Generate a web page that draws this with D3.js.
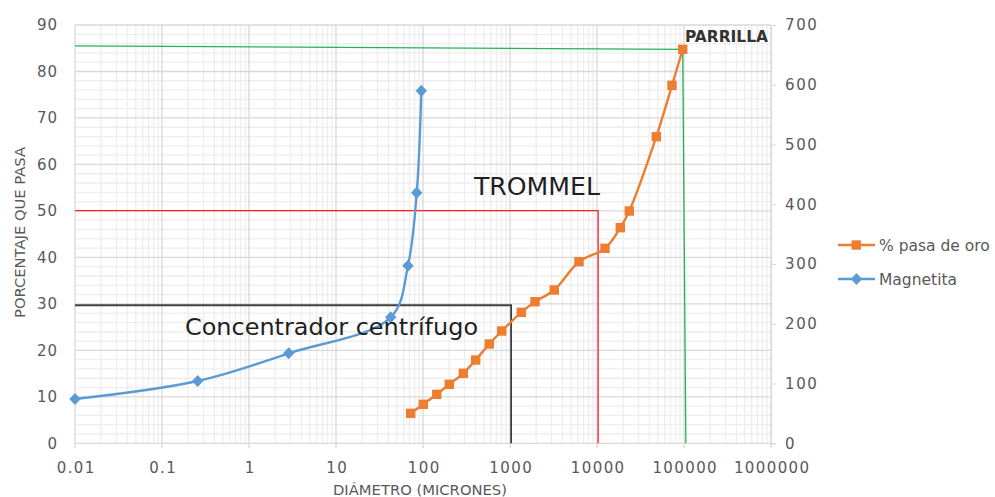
<!DOCTYPE html>
<html>
<head>
<meta charset="utf-8">
<script src="https://cdn.jsdelivr.net/npm/d3@7"></script>
<style>
  html, body { margin: 0; padding: 0; background: #fff; }
  svg { display: block; }
</style>
</head>
<body>
<svg id="chart" width="995" height="497"></svg>
<script>
// ---------- DATA ----------
const xTickValues = [0.01, 0.1, 1, 10, 100, 1000, 10000, 100000, 1000000];
const xTickLabels = ["0.01", "0.1", "1", "10", "100", "1000", "10000", "100000", "1000000"];
const leftTicks = [0, 10, 20, 30, 40, 50, 60, 70, 80, 90];
const rightTicks = [0, 100, 200, 300, 400, 500, 600, 700];

const seriesNames = ["% pasa de oro", "Magnetita"];

const oroDiam = [72.2, 100.8, 144, 200.6, 290.6, 403, 578, 803, 1349, 1939, 3228, 6210, 12360, 18530, 23500, 48060, 72800, 96600];
const oroPct  = [6.45, 8.39, 10.54, 12.69, 15.06, 17.92, 21.36, 24.16, 28.18, 30.46, 32.98, 39.07, 41.95, 46.39, 49.98, 65.97, 77.02, 84.77];

const magDiam = [0.01, 0.257, 2.86, 42.5, 67.2, 84.7, 95.6];
const magPct  = [9.53, 13.4, 19.36, 27.1, 38.2, 53.9, 75.86];

// reference (cut-size) lines: diameter / percent pairs
const parrillaDiam = [0.01, 96600, 105000];
const parrillaPct  = [85.5, 84.77, 0];
const trommelDiam  = [0.01, 10300, 10300];
const trommelPct   = [50.05, 50.05, 0];
const concDiam     = [0.01, 1030, 1030];
const concPct      = [29.7, 29.7, 0];

const annotationTexts = ["PARRILLA", "TROMMEL", "Concentrador centrífugo"];
const xTitle = "DIÁMETRO (MICRONES)";
const yTitle = "PORCENTAJE QUE PASA";

// ---------- LAYOUT ----------
const svg = d3.select("#chart");
const L = 75, R = 771, T = 25, B = 443.3;

const x = d3.scaleLog().domain([0.01, 1000000]).range([L, R]);
const y = d3.scaleLinear().domain([0, 90]).range([B, T]);
const y2 = d3.scaleLinear().domain([0, 700]).range([B, T]);

const font = "'DejaVu Sans', sans-serif";
const tickColor = "#595959";

// ---------- GRID ----------
const grid = svg.append("g");
const minorX = [];
for (let e = -2; e < 6; e++) for (let m = 2; m <= 9; m++) minorX.push(m * Math.pow(10, e));
grid.selectAll(".mvx").data(minorX).enter().append("line")
  .attr("x1", d => x(d)).attr("x2", d => x(d)).attr("y1", T).attr("y2", B)
  .attr("stroke", "#eeeeee").attr("stroke-width", 1.3);
const minorY = d3.range(0, 91, 2).filter(v => v % 10 !== 0);
grid.selectAll(".mhy").data(minorY).enter().append("line")
  .attr("x1", L).attr("x2", R).attr("y1", d => y(d)).attr("y2", d => y(d))
  .attr("stroke", "#eeeeee").attr("stroke-width", 1.3);
grid.selectAll(".Mvx").data(xTickValues).enter().append("line")
  .attr("x1", d => x(d)).attr("x2", d => x(d)).attr("y1", T).attr("y2", d => B + 5)
  .attr("stroke", "#d9d9d9").attr("stroke-width", 1.3);
grid.selectAll(".Mhy").data(leftTicks).enter().append("line")
  .attr("x1", L).attr("x2", R).attr("y1", d => y(d)).attr("y2", d => y(d))
  .attr("stroke", "#d9d9d9").attr("stroke-width", 1.3);

// ---------- AXES ----------
const xAxis = svg.append("g").attr("transform", `translate(0,${B})`)
  .call(d3.axisBottom(x).tickValues(xTickValues).tickFormat((d, i) => xTickLabels[i]).tickSize(0).tickPadding(19));
xAxis.select(".domain").remove();
xAxis.selectAll("text").attr("font-family", font).attr("font-size", 15).attr("fill", tickColor)
  .attr("letter-spacing", "1.4px").attr("dx", "0.7px");

const yAxis = svg.append("g").attr("transform", `translate(${L},0)`)
  .call(d3.axisLeft(y).tickValues(leftTicks).tickSize(0).tickPadding(17));
yAxis.select(".domain").remove();
yAxis.selectAll("text").attr("font-family", font).attr("font-size", 15).attr("fill", tickColor)
  .attr("letter-spacing", "1px");

const y2Axis = svg.append("g").attr("transform", `translate(${R},0)`)
  .call(d3.axisRight(y2).tickValues(rightTicks).tickSize(5).tickPadding(9));
y2Axis.select(".domain").attr("stroke", "#d9d9d9");
y2Axis.selectAll("line").attr("stroke", "#d9d9d9");
y2Axis.selectAll("text").attr("font-family", font).attr("font-size", 15).attr("fill", tickColor)
  .attr("letter-spacing", "1.6px");

// axis titles
svg.append("text").attr("x", (L + R) / 2 - 3).attr("y", 494.5).attr("text-anchor", "middle")
  .attr("font-family", font).attr("font-size", 14.5).attr("fill", tickColor)
  .attr("textLength", 174).attr("lengthAdjust", "spacingAndGlyphs").text(xTitle);
svg.append("text").attr("transform", `translate(25,${232.5}) rotate(-90)`).attr("text-anchor", "middle")
  .attr("font-family", font).attr("font-size", 14.5).attr("fill", tickColor)
  .attr("textLength", 171).attr("lengthAdjust", "spacingAndGlyphs").text(yTitle);

// ---------- REFERENCE LINES ----------
const refLine = d3.line().x(d => x(d[0])).y(d => y(d[1]));
function pairs(a, b) { return a.map((v, i) => [v, b[i]]); }
svg.append("path").datum(pairs(concDiam, concPct)).attr("d", refLine)
  .attr("fill", "none").attr("stroke", "#404040").attr("stroke-width", 1.8);
svg.append("path").datum(pairs(trommelDiam, trommelPct)).attr("d", refLine)
  .attr("fill", "none").attr("stroke", "#ff2020").attr("stroke-width", 1.3);
svg.append("path").datum(pairs(parrillaDiam, parrillaPct)).attr("d", refLine)
  .attr("fill", "none").attr("stroke", "#22b45a").attr("stroke-width", 1.3);

// ---------- SERIES ----------
const orange = "#ed7d31", blue = "#5b9bd5";
const smooth = d3.line().x(d => x(d[0])).y(d => y(d[1])).curve(d3.curveCatmullRom.alpha(0.5));

const magData = pairs(magDiam, magPct);
const oroData = pairs(oroDiam, oroPct);

svg.append("path").datum(magData).attr("d", smooth)
  .attr("fill", "none").attr("stroke", blue).attr("stroke-width", 2.4);
svg.append("path").datum(oroData).attr("d", smooth)
  .attr("fill", "none").attr("stroke", orange).attr("stroke-width", 2.4);

function diamond(cx, cy) {
  const w = 5.7, h = 6;
  return `M${cx},${cy - h}L${cx + w},${cy}L${cx},${cy + h}L${cx - w},${cy}Z`;
}
svg.selectAll(".mag").data(magData).enter().append("path")
  .attr("d", d => diamond(x(d[0]), y(d[1]))).attr("fill", blue);
svg.selectAll(".oro").data(oroData).enter().append("rect")
  .attr("x", d => x(d[0]) - 4.7).attr("y", d => y(d[1]) - 4.7)
  .attr("width", 9.4).attr("height", 9.4).attr("fill", orange);

// ---------- ANNOTATIONS ----------
const annGroup = svg.append("g").attr("font-family", font).attr("fill", "#1f1f1f");
annGroup.append("text").attr("x", x(102600)).attr("y", y(86.4))
  .attr("font-size", 16).attr("font-weight", "bold").attr("textLength", 83).attr("lengthAdjust", "spacingAndGlyphs")
  .attr("fill", "#333333").text(annotationTexts[0]);
annGroup.append("text").attr("x", x(385)).attr("y", y(53.4))
  .attr("font-size", 24).attr("textLength", 126).attr("lengthAdjust", "spacingAndGlyphs")
  .text(annotationTexts[1]);
annGroup.append("text").attr("x", x(0.184)).attr("y", y(23.3))
  .attr("font-size", 23).attr("textLength", 293).attr("lengthAdjust", "spacingAndGlyphs")
  .text(annotationTexts[2]);

// ---------- LEGEND ----------
const legend = svg.append("g").attr("font-family", font).attr("font-size", 15.5).attr("fill", tickColor);
const legY = [245, 279];
const legColors = [orange, blue];
seriesNames.forEach((name, i) => {
  const g = legend.append("g").attr("transform", `translate(0,${legY[i]})`);
  g.append("line").attr("x1", 838).attr("x2", 875).attr("y1", 0).attr("y2", 0)
    .attr("stroke", legColors[i]).attr("stroke-width", 2.4);
  if (i === 0) g.append("rect").attr("x", 851.5).attr("y", -4.7).attr("width", 9.4).attr("height", 9.4).attr("fill", orange);
  else g.append("path").attr("d", diamond(856.5, 0)).attr("fill", blue);
  g.append("text").attr("x", 879).attr("y", 5.5).text(name);
});
</script>
</body>
</html>
